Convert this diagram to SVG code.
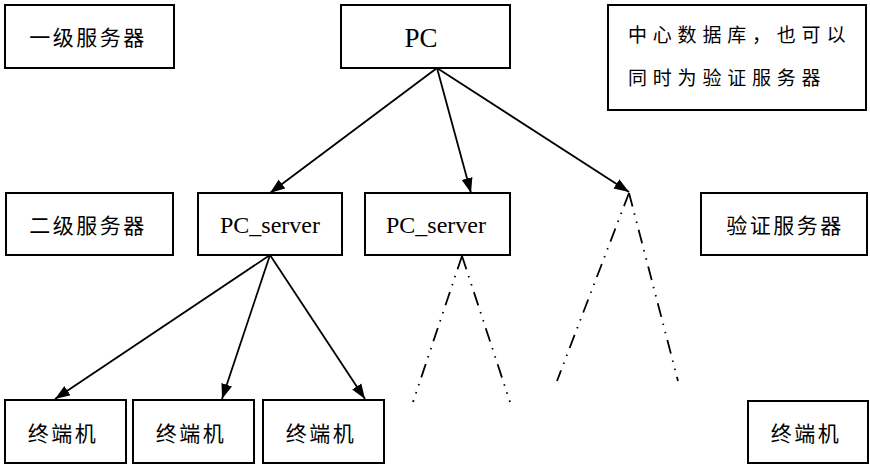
<svg xmlns="http://www.w3.org/2000/svg" width="870" height="464" viewBox="0 0 870 464">
<style>
.box{fill:#fff;stroke:#000;stroke-width:2}
.cn{font-family:"Noto Sans CJK SC","Noto Sans CJK JP",sans-serif;font-size:21px;letter-spacing:2.5px;fill:#000;text-anchor:middle}
.cn2{font-family:"Noto Sans CJK SC","Noto Sans CJK JP",sans-serif;font-size:19px;letter-spacing:5.8px;fill:#000}
.en{font-family:"Liberation Serif",serif;fill:#000;text-anchor:middle}
.ln{fill:none;stroke:#000;stroke-width:1.8}
.dd{fill:none;stroke:#000;stroke-width:1.8;stroke-dasharray:14 7 1.5 7 1.5 7}
</style>
<defs>
<marker id="ah" markerUnits="userSpaceOnUse" markerWidth="16" markerHeight="13" refX="15" refY="5.5" orient="auto" viewBox="0 0 16 11">
<path d="M0,0 L15,5.5 L0,11 z" fill="#000"/>
</marker>
</defs>
<g id="connectors">
<line class="ln" x1="437" y1="68" x2="270" y2="193" marker-end="url(#ah)"/>
<line class="ln" x1="437" y1="68" x2="471" y2="193" marker-end="url(#ah)"/>
<line class="ln" x1="437" y1="68" x2="629" y2="192" marker-end="url(#ah)"/>
<line class="ln" x1="270" y1="255" x2="55" y2="399" marker-end="url(#ah)"/>
<line class="ln" x1="270" y1="255" x2="222" y2="399" marker-end="url(#ah)"/>
<line class="ln" x1="270" y1="255" x2="365" y2="399" marker-end="url(#ah)"/>
<line class="dd" x1="462" y1="256" x2="413" y2="402"/>
<line class="dd" x1="462" y1="256" x2="510" y2="402"/>
<line class="dd" x1="629" y1="193" x2="557" y2="381"/>
<line class="dd" x1="629" y1="193" x2="678" y2="381"/>
</g>
<g id="level1-label">
<rect class="box" x="5" y="5" width="169" height="63"/>
<text class="cn" x="88" y="45">一级服务器</text>
</g>
<g id="pc">
<rect class="box" x="341" y="5" width="169" height="63"/>
<text class="en" x="421" y="47" font-size="27">PC</text>
</g>
<g id="note">
<rect class="box" x="608" y="5" width="258" height="105"/>
<text class="cn2" x="628" y="42">中心数据库，也可以</text>
<text class="cn2" x="628" y="85">同时为验证服务器</text>
</g>
<g id="level2-label">
<rect class="box" x="6" y="193" width="167" height="62"/>
<text class="cn" x="88" y="233">二级服务器</text>
</g>
<g id="pc-server-1">
<rect class="box" x="198" y="193" width="144" height="62"/>
<text class="en" x="270" y="233" font-size="24">PC_server</text>
</g>
<g id="pc-server-2">
<rect class="box" x="365" y="193" width="145" height="62"/>
<text class="en" x="436" y="233" font-size="24">PC_server</text>
</g>
<g id="auth-server">
<rect class="box" x="701" y="193" width="166" height="62"/>
<text class="cn" x="785" y="233">验证服务器</text>
</g>
<g id="terminal-1">
<rect class="box" x="5" y="400" width="121" height="63"/>
<text class="cn" x="63" y="441">终端机</text>
</g>
<g id="terminal-2">
<rect class="box" x="133" y="400" width="121" height="63"/>
<text class="cn" x="191" y="441">终端机</text>
</g>
<g id="terminal-3">
<rect class="box" x="263" y="400" width="121" height="63"/>
<text class="cn" x="321" y="441">终端机</text>
</g>
<g id="terminal-4">
<rect class="box" x="748" y="401" width="120" height="62"/>
<text class="cn" x="806" y="441">终端机</text>
</g>
</svg>
